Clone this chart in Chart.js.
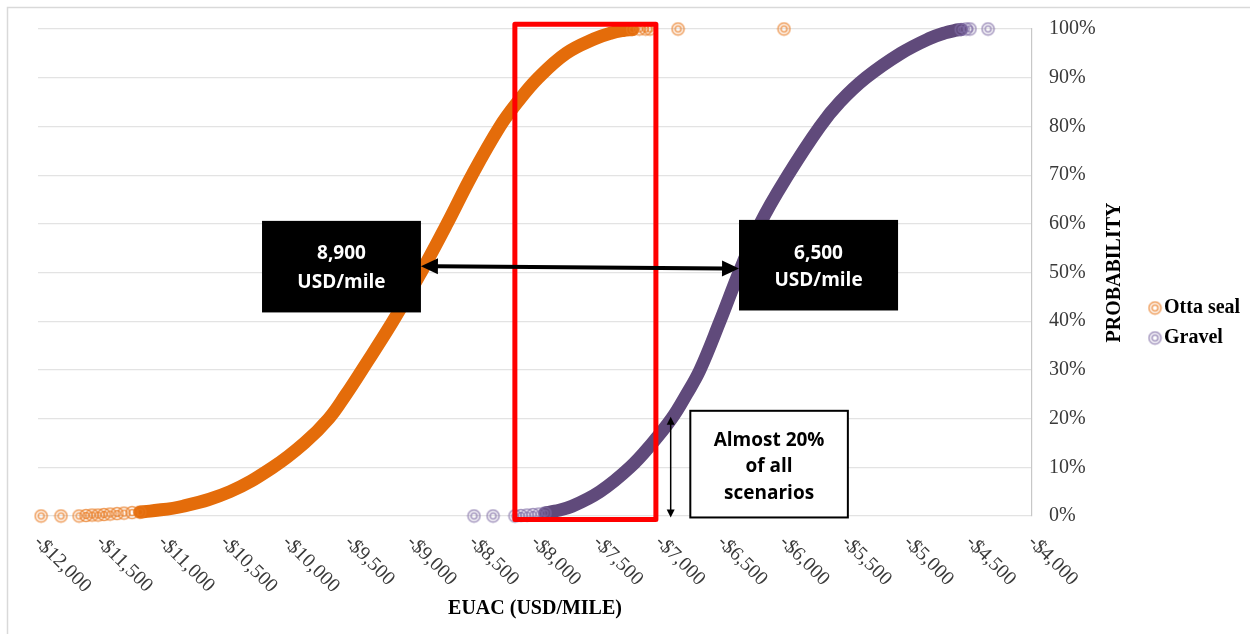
<!DOCTYPE html>
<html lang="en">
<head>
<meta charset="UTF-8">
<title>EUAC probability</title>
<script src="https://cdn.jsdelivr.net/npm/chart.js"></script>
<style>
  html, body { margin: 0; padding: 0; background: #fff; }
  #wrap { width: 1250px; height: 634px; }
</style>
</head>
<body>
<div id="wrap"><canvas id="chart" width="1250" height="634"></canvas></div>
<script>
// cumulative probability (%) against EUAC (USD/mile)
var ottaEuac = [-11180, -11099, -10833, -10455, -10109, -9855, -9660, -9520, -9392, -9143, -8918, -8708, -8507, -8282, -8140, -7972, -7750, -7520, -7385, -7290, -7215];
var ottaProb = [0.8, 1, 2, 5, 10, 15, 20, 25, 30, 40, 50, 60, 70, 80, 85, 90, 95, 98, 99.2, 99.7, 99.9];
// the single markers at both tails
var ottaDotEuac = [-11975, -11815, -11670, -11614, -11565, -11517, -11469, -11420, -11364, -11308, -11243, -11180, -7215, -7160, -7110, -7074, -6849, -5996];
var ottaDotProb = [0, 0, 0, 0.1, 0.2, 0.2, 0.3, 0.4, 0.5, 0.6, 0.7, 0.8, 99.9, 100, 100, 100, 100, 100];

var gravelEuac = [-7920, -7839, -7702, -7477, -7235, -7055, -6900, -6780, -6672, -6511, -6358, -6189, -5964, -5706, -5546, -5336, -5056, -4830, -4700, -4620, -4570];
var gravelProb = [0.6, 1, 2, 5, 10, 15, 20, 25, 30, 40, 50, 60, 70, 80, 85, 90, 95, 98, 99.2, 99.7, 99.9];
var gravelDotEuac = [-8491, -8338, -8161, -8113, -8064, -8016, -7968, -7920, -4570, -4530, -4499, -4354];
var gravelDotProb = [0, 0, 0, 0.1, 0.2, 0.3, 0.4, 0.6, 99.9, 100, 100, 100];

var xTicks = [-12000, -11500, -11000, -10500, -10000, -9500, -9000, -8500, -8000, -7500, -7000, -6500, -6000, -5500, -5000, -4500, -4000];
var yTicks = [0, 10, 20, 30, 40, 50, 60, 70, 80, 90, 100];

var seriesNames = ['Otta seal', 'Gravel'];

function pts(xs, ys) {
  return xs.map(function (x, i) { return { x: x, y: ys[i] }; });
}

// Excel style double ring marker
function ring(color) {
  var c = document.createElement('canvas');
  c.width = 15; c.height = 15;
  var g = c.getContext('2d');
  g.strokeStyle = color;
  g.lineWidth = 1.5;
  g.beginPath(); g.arc(7.5, 7.5, 6, 0, Math.PI * 2); g.stroke();
  g.beginPath(); g.arc(7.5, 7.5, 3, 0, Math.PI * 2); g.stroke();
  return c;
}
var ottaRing = ring('rgba(232,120,30,0.75)');
var gravelRing = ring('rgba(128,110,165,0.75)');

var serif = '"Liberation Serif", "Times New Roman", serif';
var sans = '"Open Sans", "Noto Sans", sans-serif';

function fmtMoney(v) {
  return '-$' + Math.abs(v).toLocaleString('en-US');
}

function arrowHead(ctx, x1, y1, x2, y2, len, half) {
  var a = Math.atan2(y2 - y1, x2 - x1);
  ctx.beginPath();
  ctx.moveTo(x2, y2);
  ctx.lineTo(x2 - len * Math.cos(a) + half * Math.sin(a), y2 - len * Math.sin(a) - half * Math.cos(a));
  ctx.lineTo(x2 - len * Math.cos(a) - half * Math.sin(a), y2 - len * Math.sin(a) + half * Math.cos(a));
  ctx.closePath();
  ctx.fill();
}

function doubleArrow(ctx, x1, y1, x2, y2, w, len, half) {
  var a = Math.atan2(y2 - y1, x2 - x1);
  ctx.save();
  ctx.strokeStyle = '#000';
  ctx.fillStyle = '#000';
  ctx.lineWidth = w;
  ctx.beginPath();
  ctx.moveTo(x1 + (len - 2) * Math.cos(a), y1 + (len - 2) * Math.sin(a));
  ctx.lineTo(x2 - (len - 2) * Math.cos(a), y2 - (len - 2) * Math.sin(a));
  ctx.stroke();
  arrowHead(ctx, x1, y1, x2, y2, len, half);
  arrowHead(ctx, x2, y2, x1, y1, len, half);
  ctx.restore();
}

function textBox(ctx, x, y, xs, ys, lines, fill, stroke, color, step, shift) {
  var l = x.getPixelForValue(xs[0]), r = x.getPixelForValue(xs[1]);
  var t = y.getPixelForValue(ys[0]), b = y.getPixelForValue(ys[1]);
  ctx.save();
  ctx.fillStyle = fill;
  ctx.fillRect(l, t, r - l, b - t);
  if (stroke) {
    ctx.strokeStyle = stroke;
    ctx.lineWidth = 2;
    ctx.strokeRect(l, t, r - l, b - t);
  }
  ctx.fillStyle = color;
  ctx.font = 'bold 19px ' + sans;
  ctx.textAlign = 'center';
  ctx.textBaseline = 'middle';
  var cy = (t + b) / 2 + shift;
  lines.forEach(function (s, i) {
    ctx.fillText(s, (l + r) / 2, cy + (i - (lines.length - 1) / 2) * step);
  });
  ctx.restore();
}

var annotations = {
  id: 'annotations',
  afterDatasetsDraw: function (chart) {
    var ctx = chart.ctx, x = chart.scales.x, y = chart.scales.y;

    // red window
    ctx.save();
    ctx.strokeStyle = '#ff0000';
    ctx.lineWidth = 5;
    ctx.lineJoin = 'round';
    var l = x.getPixelForValue(-8162), r = x.getPixelForValue(-7027);
    var t = y.getPixelForValue(101), b = y.getPixelForValue(-0.7);
    ctx.strokeRect(l, t, r - l, b - t);
    ctx.restore();

    textBox(ctx, x, y, [-10197, -8918], [60.6, 41.8], ['8,900', 'USD/mile'], '#000', null, '#fff', 29, 1);
    textBox(ctx, x, y, [-6358, -5078], [60.8, 42.2], ['6,500', 'USD/mile'], '#000', null, '#fff', 27, 2);

    doubleArrow(ctx, x.getPixelForValue(-8918), y.getPixelForValue(51.3),
      x.getPixelForValue(-6358), y.getPixelForValue(50.8), 4, 17, 8);

    doubleArrow(ctx, x.getPixelForValue(-6908), y.getPixelForValue(20.4),
      x.getPixelForValue(-6908), y.getPixelForValue(-0.3), 1.5, 8, 4);

    textBox(ctx, x, y, [-6750, -5482], [21.6, -0.3], ['Almost 20%', 'of all', 'scenarios'], '#fff', '#000', '#000', 26.5, 2.5);
  },
  afterDraw: function (chart) {
    var ctx = chart.ctx, x = chart.scales.x, area = chart.chartArea;
    ctx.save();

    // outer frame
    ctx.strokeStyle = '#d9d9d9';
    ctx.lineWidth = 1.5;
    ctx.beginPath();
    ctx.moveTo(7.5, 634); ctx.lineTo(7.5, 7.5); ctx.lineTo(1250, 7.5);
    ctx.stroke();

    // slanted x tick labels
    ctx.fillStyle = '#3a3a3a';
    ctx.font = '20px ' + serif;
    ctx.textAlign = 'left';
    ctx.textBaseline = 'middle';
    xTicks.forEach(function (v) {
      ctx.save();
      ctx.translate(x.getPixelForValue(v) - 1, area.bottom + 23);
      ctx.rotate(Math.PI / 4);
      ctx.fillText(fmtMoney(v), 0, 0);
      ctx.restore();
    });

    // axis titles
    ctx.fillStyle = '#000';
    ctx.font = 'bold 20px ' + serif;
    ctx.textAlign = 'center';
    ctx.fillText('EUAC (USD/MILE)', (area.left + area.right) / 2, 609);
    ctx.save();
    ctx.translate(1115, (area.top + area.bottom) / 2);
    ctx.rotate(-Math.PI / 2);
    ctx.fillText('PROBABILITY', 0, 0);
    ctx.restore();

    // legend
    var rings = [ottaRing, gravelRing];
    ctx.textAlign = 'left';
    seriesNames.forEach(function (name, i) {
      var ly = 308 + i * 30;
      ctx.drawImage(rings[i], 1155 - 7.5, ly - 7.5);
      ctx.fillText(name, 1164, ly);
    });
    ctx.restore();
  }
};

new Chart(document.getElementById('chart'), {
  type: 'scatter',
  data: {
    datasets: [
      {
        label: seriesNames[0],
        data: pts(ottaDotEuac, ottaDotProb),
        pointStyle: ottaRing,
        pointRadius: 6,
        clip: false
      },
      {
        label: seriesNames[1],
        data: pts(gravelDotEuac, gravelDotProb),
        pointStyle: gravelRing,
        pointRadius: 6,
        clip: false
      },
      {
        label: seriesNames[0] + ' curve',
        data: pts(ottaEuac, ottaProb),
        showLine: true,
        borderColor: '#e46c0a',
        borderWidth: 13,
        borderCapStyle: 'round',
        tension: 0.4,
        pointRadius: 0,
        clip: false
      },
      {
        label: seriesNames[1] + ' curve',
        data: pts(gravelEuac, gravelProb),
        showLine: true,
        borderColor: '#604a7b',
        borderWidth: 13,
        borderCapStyle: 'round',
        tension: 0.4,
        pointRadius: 0,
        clip: false
      }
    ]
  },
  options: {
    responsive: false,
    devicePixelRatio: 1,
    animation: false,
    layout: { padding: { left: 38, top: 27, right: 0, bottom: 118 } },
    plugins: {
      legend: { display: false },
      tooltip: { enabled: false }
    },
    scales: {
      x: {
        type: 'linear',
        display: false,
        min: xTicks[0],
        max: xTicks[xTicks.length - 1]
      },
      y: {
        position: 'right',
        min: yTicks[0],
        max: yTicks[yTicks.length - 1],
        afterFit: function (s) { s.width = 218; },
        afterBuildTicks: function (s) {
          s.ticks = yTicks.map(function (v) { return { value: v }; });
        },
        grid: { color: '#e3e3e3', lineWidth: 1.2, drawTicks: false },
        border: { color: '#c8c8c8', width: 1.2 },
        ticks: {
          padding: 17,
          color: '#3a3a3a',
          font: { family: serif, size: 20 },
          callback: function (v) { return v + '%'; }
        }
      }
    }
  },
  plugins: [annotations]
});
</script>
</body>
</html>
